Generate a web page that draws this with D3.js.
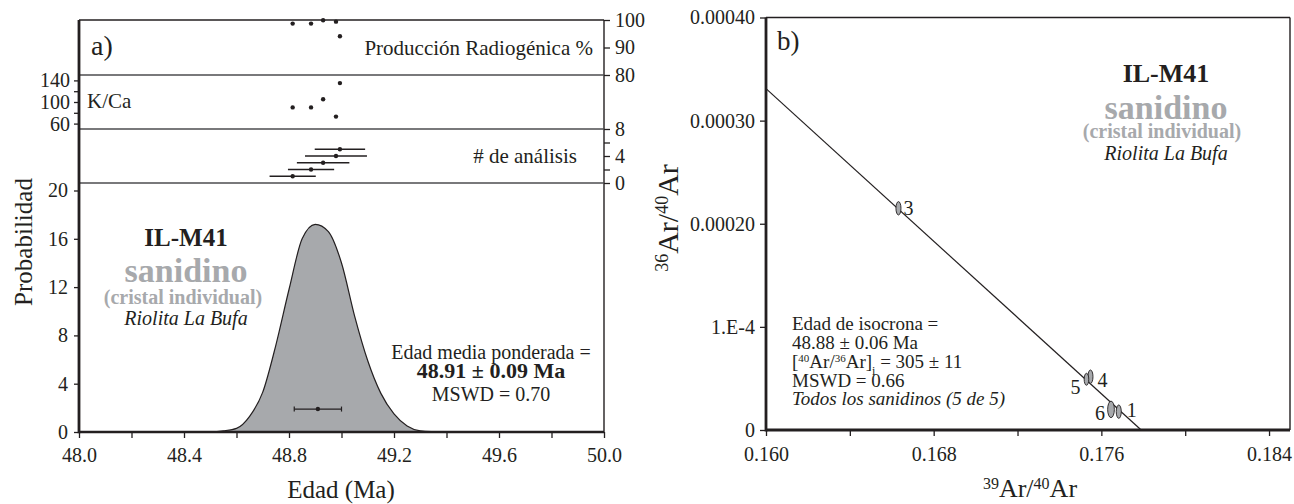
<!DOCTYPE html>
<html>
<head>
<meta charset="utf-8">
<script src="https://cdn.jsdelivr.net/npm/d3@7"></script>
<style>
body { margin: 0; background: #fff; }
svg { font-family: "Liberation Serif", "Times New Roman", serif; fill: #231f20; }
.tick line { stroke: #231f20; stroke-width: 1.3; }
</style>
</head>
<body>
<script>
// ---- panel a: single crystal analyses, ordered by age
var ages = [48.814, 48.884, 48.930, 48.979, 48.994];
var ageErr = [0.088, 0.088, 0.100, 0.118, 0.096];
var analysisNo = [1, 2, 3, 4, 5];
var radiogenic = [98.7, 98.7, 99.9, 99.4, 94.1];
var kca = [90, 90, 105, 73, 135];

// probability curve
var probAge = [48.40, 48.50, 48.55, 48.60, 48.65, 48.70, 48.75, 48.80, 48.85, 48.90,
               48.95, 49.00, 49.05, 49.10, 49.15, 49.20, 49.25, 49.30, 49.40];
var probValue = [0, 0.02, 0.1, 0.3, 1.3, 3.3, 7.2, 11.8, 16.0, 17.2,
                 16.6, 14.0, 9.6, 5.9, 3.2, 1.5, 0.5, 0.1, 0];

var meanAge = 48.91, meanErr = 0.09, meanLevel = 1.9;

var ageTicks = [48.0, 48.2, 48.4, 48.6, 48.8, 49.0, 49.2, 49.4, 49.6, 49.8, 50.0];
var probTicks = [0, 4, 8, 12, 16, 20];
var radTicks = [80, 90, 100];
var kcaTicks = [60, 80, 100, 120, 140];
var nTicks = [0, 2, 4, 6, 8];

// ---- panel b: isochron
var isoId = ["1", "3", "4", "5", "6"];
var isoX = [0.17683, 0.16632, 0.17548, 0.17529, 0.17646];
var isoY = [1.78e-5, 2.150e-4, 5.17e-5, 4.92e-5, 2.0e-5];
var isoSx = [0.00012, 0.00012, 0.00012, 0.00011, 0.00016];
var isoSy = [6.5e-6, 6.5e-6, 6.5e-6, 5.8e-6, 8.0e-6];
var lineX = [0.160, 0.1779];
var lineY = [0.000331, 0];

var xTicksB = [0.160, 0.164, 0.168, 0.172, 0.176, 0.180, 0.184];
var yTicksB = [0, 0.0001, 0.0002, 0.0003, 0.0004];
var yLabelsB = ["0", "1.E-4", "0.00020", "0.00030", "0.00040"];

var ink = "#231f20", grey = "#a7a9ac";
var serif = "'Liberation Serif', 'Times New Roman', serif";

var svg = d3.select("body").append("svg")
    .attr("width", 1294)
    .attr("height", 504);

// ================= panel a =================
var xA = d3.scaleLinear().domain([48, 50]).range([79, 604]);
var yProb = d3.scaleLinear().domain([0, 20]).range([432, 190.5]);
var yRad = d3.scaleLinear().domain([80, 100]).range([75, 20]);
var yKCa = d3.scaleLinear().domain([50, 150]).range([129, 75]);
var yN = d3.scaleLinear().domain([0, 8]).range([183, 129]);

var probData = probAge.map(function(a, i) { return {age: a, p: probValue[i]}; });

var area = d3.area()
    .x(function(d) { return xA(d.age); })
    .y0(yProb(0))
    .y1(function(d) { return yProb(d.p); })
    .curve(d3.curveMonotoneX);

svg.append("path")
    .datum(probData)
    .attr("d", area)
    .attr("fill", grey)
    .attr("stroke", ink)
    .attr("stroke-width", 1.2);

// axes: drop the domain line (frame drawn below) and use the serif font
function styleAxis(g) {
  g.select(".domain").remove();
  g.attr("font-family", null).attr("font-size", null);
  g.selectAll("text")
      .style("font-family", serif)
      .style("font-size", "20px")
      .attr("fill", ink);
}

svg.append("g")
    .attr("transform", "translate(0," + yProb(0) + ")")
    .call(d3.axisBottom(xA).tickValues(ageTicks).tickSize(6).tickSizeOuter(0).tickPadding(10)
        .tickFormat(function(d, i) { return i % 2 ? "" : d.toFixed(1); }))
    .call(styleAxis);

svg.append("g")
    .attr("transform", "translate(" + xA(48) + ",0)")
    .call(d3.axisLeft(yProb).tickValues(probTicks).tickSize(5).tickSizeOuter(0).tickPadding(6))
    .call(styleAxis);

svg.append("g")
    .attr("transform", "translate(" + xA(48) + ",0)")
    .call(d3.axisLeft(yKCa).tickValues(kcaTicks).tickSize(5).tickSizeOuter(0).tickPadding(4)
        .tickFormat(function(d) { return d % 40 === 20 ? d : ""; }))
    .call(styleAxis);

svg.append("g")
    .attr("transform", "translate(" + xA(50) + ",0)")
    .call(d3.axisRight(yRad).tickValues(radTicks).tickSize(6).tickSizeOuter(0).tickPadding(5))
    .call(styleAxis);

svg.append("g")
    .attr("transform", "translate(" + xA(50) + ",0)")
    .call(d3.axisRight(yN).tickValues(nTicks).tickSize(6).tickSizeOuter(0).tickPadding(5)
        .tickFormat(function(d) { return d % 4 ? "" : d; }))
    .call(styleAxis);

// frame and dividers
var aL = xA.range()[0], aR = xA.range()[1], aT = yRad.range()[1], aB = yProb.range()[0];
var frame = svg.append("g").attr("stroke", ink).attr("fill", "none");
frame.append("line").attr("x1", aL).attr("x2", aR).attr("y1", aT).attr("y2", aT).attr("stroke-width", 1.3);
frame.append("line").attr("x1", aR).attr("x2", aR).attr("y1", aT).attr("y2", aB).attr("stroke-width", 1.4);
[yRad(80), yKCa(50), yN(0)].forEach(function(y) {
  frame.append("line").attr("x1", aL).attr("x2", aR).attr("y1", y).attr("y2", y)
      .attr("stroke-width", 1.3).attr("stroke", "#4d4d4f");
});
frame.append("line").attr("x1", aL).attr("x2", aR).attr("y1", aB).attr("y2", aB).attr("stroke-width", 2.6);
frame.append("line").attr("x1", aL).attr("x2", aL).attr("y1", aT).attr("y2", aB + 1.3).attr("stroke-width", 2.8);

// radiogenic, K/Ca dots
svg.selectAll(".rad").data(ages).enter().append("circle")
    .attr("cx", function(d) { return xA(d); })
    .attr("cy", function(d, i) { return yRad(radiogenic[i]); })
    .attr("r", 2.2).attr("fill", ink);

svg.selectAll(".kca").data(ages).enter().append("circle")
    .attr("cx", function(d) { return xA(d); })
    .attr("cy", function(d, i) { return yKCa(kca[i]); })
    .attr("r", 2.2).attr("fill", ink);

// analyses with error bars
svg.selectAll(".err").data(ages).enter().append("line")
    .attr("x1", function(d, i) { return xA(d - ageErr[i]); })
    .attr("x2", function(d, i) { return xA(d + ageErr[i]); })
    .attr("y1", function(d, i) { return yN(analysisNo[i]); })
    .attr("y2", function(d, i) { return yN(analysisNo[i]); })
    .attr("stroke", ink).attr("stroke-width", 1.3);

svg.selectAll(".ana").data(ages).enter().append("circle")
    .attr("cx", function(d) { return xA(d); })
    .attr("cy", function(d, i) { return yN(analysisNo[i]); })
    .attr("r", 2.2).attr("fill", ink);

// weighted mean bar
var my = yProb(meanLevel);
svg.append("line").attr("x1", xA(meanAge - meanErr)).attr("x2", xA(meanAge + meanErr))
    .attr("y1", my).attr("y2", my).attr("stroke", ink).attr("stroke-width", 1.2);
[meanAge - meanErr, meanAge + meanErr].forEach(function(v) {
  svg.append("line").attr("x1", xA(v)).attr("x2", xA(v)).attr("y1", my - 2.5).attr("y2", my + 2.5)
      .attr("stroke", ink).attr("stroke-width", 1.2);
});
svg.append("circle").attr("cx", xA(meanAge)).attr("cy", my).attr("r", 2.2).attr("fill", ink);

// texts panel a
function txt(x, y, s, size, opts) {
  opts = opts || {};
  return svg.append("text").attr("x", x).attr("y", y).text(s)
      .attr("font-size", size)
      .attr("text-anchor", opts.anchor || "start")
      .attr("font-weight", opts.bold ? "bold" : null)
      .attr("font-style", opts.italic ? "italic" : null)
      .attr("fill", opts.fill || ink);
}
txt(91, 55, "a)", 28);
txt(593, 55, "Producción Radiogénica %", 21, {anchor: "end"});
txt(87, 108, "K/Ca", 21);
txt(577, 163, "# de análisis", 21, {anchor: "end"});

txt(186, 246, "IL-M41", 25, {anchor: "middle", bold: true});
txt(186, 282, "sanidino", 34, {anchor: "middle", bold: true, fill: grey});
txt(183, 304, "(cristal individual)", 20, {anchor: "middle", bold: true, fill: grey});
txt(186, 325, "Riolita La Bufa", 20, {anchor: "middle", italic: true});

txt(491, 359, "Edad media ponderada =", 20, {anchor: "middle"});
txt(491, 378, "48.91 ± 0.09 Ma", 22, {anchor: "middle", bold: true});
txt(491, 401, "MSWD = 0.70", 20, {anchor: "middle"});

txt(341, 498, "Edad (Ma)", 25, {anchor: "middle"});
svg.append("text").attr("transform", "translate(32,242) rotate(-90)")
    .attr("text-anchor", "middle").attr("font-size", 25).attr("fill", ink).text("Probabilidad");

// ================= panel b =================
var xB = d3.scaleLinear().domain([0.160, 0.185]).range([766, 1290]);
var yB = d3.scaleLinear().domain([0, 0.0004]).range([430, 17.5]);

svg.append("g")
    .attr("transform", "translate(0," + yB(0) + ")")
    .call(d3.axisBottom(xB).tickValues(xTicksB).tickSize(6).tickSizeOuter(0).tickPadding(11)
        .tickFormat(function(d, i) { return i % 2 ? "" : d.toFixed(3); }))
    .call(styleAxis);

svg.append("g")
    .attr("transform", "translate(" + xB(0.160) + ",0)")
    .call(d3.axisLeft(yB).tickValues(yTicksB).tickSize(6).tickSizeOuter(0).tickPadding(5)
        .tickFormat(function(d, i) { return yLabelsB[i]; }))
    .call(styleAxis);

var bL = xB.range()[0], bR = xB.range()[1], bT = yB.range()[1], bB = yB.range()[0];
var frameB = svg.append("g").attr("stroke", ink).attr("fill", "none");
frameB.append("line").attr("x1", bL).attr("x2", bR).attr("y1", bT).attr("y2", bT).attr("stroke-width", 1.4);
frameB.append("line").attr("x1", bR).attr("x2", bR).attr("y1", bT).attr("y2", bB).attr("stroke-width", 1.4);
frameB.append("line").attr("x1", bL).attr("x2", bR).attr("y1", bB).attr("y2", bB).attr("stroke-width", 2.8);
frameB.append("line").attr("x1", bL).attr("x2", bL).attr("y1", bT).attr("y2", bB + 1.4).attr("stroke-width", 2.8);

// isochron line
var isoLine = d3.line()
    .x(function(d) { return xB(d[0]); })
    .y(function(d) { return yB(d[1]); });
svg.append("path")
    .datum(lineX.map(function(v, i) { return [v, lineY[i]]; }))
    .attr("d", isoLine)
    .attr("stroke", ink).attr("stroke-width", 1.2).attr("fill", "none");

svg.selectAll(".ell").data(isoX).enter().append("ellipse")
    .attr("cx", function(d) { return xB(d); })
    .attr("cy", function(d, i) { return yB(isoY[i]); })
    .attr("rx", function(d, i) { return xB(d + isoSx[i]) - xB(d); })
    .attr("ry", function(d, i) { return yB(0) - yB(isoSy[i]); })
    .attr("fill", grey).attr("stroke", ink).attr("stroke-width", 0.9);

// point labels, offsets in pixels
var labelOffset = {"1": [8, 5, "start"], "3": [5, 7, "start"], "4": [7, 10, "start"],
                   "5": [-6, 15, "end"], "6": [-6, 11, "end"]};
isoId.forEach(function(id, i) {
  var o = labelOffset[id];
  txt(xB(isoX[i]) + o[0], yB(isoY[i]) + o[1], id, 20, {anchor: o[2]});
});

// texts panel b
txt(777, 50, "b)", 27);
txt(1166, 82, "IL-M41", 26, {anchor: "middle", bold: true});
txt(1166, 119, "sanidino", 34, {anchor: "middle", bold: true, fill: grey});
txt(1162, 138, "(cristal individual)", 20, {anchor: "middle", bold: true, fill: grey});
txt(1166, 160, "Riolita La Bufa", 20, {anchor: "middle", italic: true});

txt(792, 330, "Edad de isocrona =", 19);
txt(792, 349, "48.88 ± 0.06 Ma", 19);
var r = svg.append("text").attr("x", 792).attr("y", 368).attr("font-size", 19).attr("fill", ink);
r.append("tspan").text("[");
r.append("tspan").text("40").attr("font-size", 11).attr("baseline-shift", "super");
r.append("tspan").text("Ar/");
r.append("tspan").text("36").attr("font-size", 11).attr("baseline-shift", "super");
r.append("tspan").text("Ar]");
r.append("tspan").text("i").attr("font-size", 12).attr("baseline-shift", "sub");
r.append("tspan").text(" = 305 ± 11");
txt(792, 387, "MSWD = 0.66", 19);
txt(792, 405, "Todos los sanidinos (5 de 5)", 19, {italic: true});

// axis titles with superscripts
var xt = svg.append("text").attr("x", 1030).attr("y", 497).attr("text-anchor", "middle")
    .attr("font-size", 26).attr("fill", ink);
xt.append("tspan").text("39").attr("font-size", 16).attr("baseline-shift", "super");
xt.append("tspan").text("Ar/");
xt.append("tspan").text("40").attr("font-size", 16).attr("baseline-shift", "super");
xt.append("tspan").text("Ar");

var yt = svg.append("text").attr("transform", "translate(678,218) rotate(-90)")
    .attr("text-anchor", "middle").attr("font-size", 30).attr("fill", ink);
yt.append("tspan").text("36").attr("font-size", 18).attr("baseline-shift", "super");
yt.append("tspan").text("Ar/");
yt.append("tspan").text("40").attr("font-size", 18).attr("baseline-shift", "super");
yt.append("tspan").text("Ar");
</script>
</body>
</html>
